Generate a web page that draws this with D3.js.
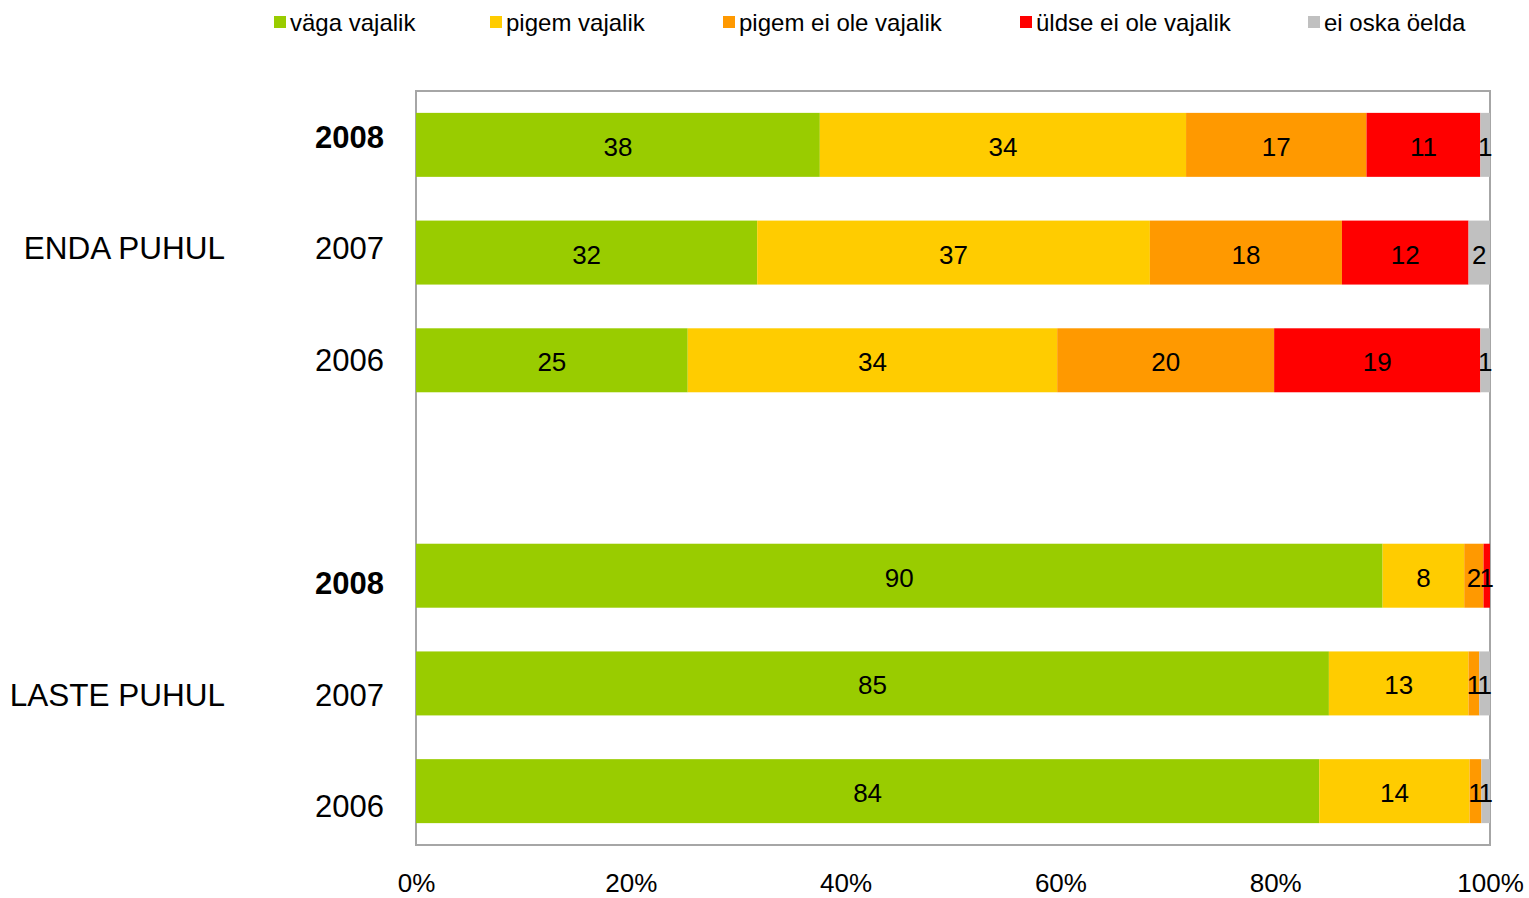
<!DOCTYPE html>
<html>
<head>
<meta charset="utf-8">
<script src="https://cdn.jsdelivr.net/npm/d3@7"></script>
<style>
    body { margin: 0; background: #ffffff; }
    svg { display: block; font-family: "Liberation Sans", Arial, sans-serif; }
</style>
</head>
<body>
<div id="chart"></div>
<script>
// data (shares in %, labels shown rounded)
const seriesNames = ["väga vajalik", "pigem vajalik", "pigem ei ole vajalik", "üldse ei ole vajalik", "ei oska öelda"];
const seriesColors = ["#99CC00", "#FFCC00", "#FF9900", "#FF0000", "#C0C0C0"];
const groupNames = ["ENDA PUHUL", "LASTE PUHUL"];
const years = ["2008", "2007", "2006"];
const vagaVajalik   = [37.6, 31.8, 25.3, 90.0, 85.0, 84.1];
const pigemVajalik  = [34.1, 36.6, 34.4,  7.6, 13.0, 14.0];
const pigemEiOle    = [16.8, 17.9, 20.2,  1.8,  1.0,  1.1];
const uldseEiOle    = [10.6, 11.8, 19.2,  0.6,  0.0,  0.0];
const eiOskaOelda   = [ 0.9,  2.0,  0.9,  0.0,  1.0,  0.8];
const xTicks = [0, 0.2, 0.4, 0.6, 0.8, 1];

const width = 1529, height = 898;
const plot = {left: 416, right: 1490, top: 91, bottom: 845};

// build rows: ENDA 2008..2006, empty slot, LASTE 2008..2006
const seriesValues = [vagaVajalik, pigemVajalik, pigemEiOle, uldseEiOle, eiOskaOelda];
const rows = [];
groupNames.forEach((g, gi) => {
    years.forEach((yr, yi) => {
        const idx = gi * years.length + yi;
        const row = {key: g + "-" + yr, group: g, year: yr};
        seriesNames.forEach((s, si) => { row[s] = seriesValues[si][idx]; });
        rows.push(row);
    });
});
const rowKeys = [...rows.slice(0, 3).map(r => r.key), "gap", ...rows.slice(3).map(r => r.key)];

const svg = d3.select("#chart").append("svg")
    .attr("width", width)
    .attr("height", height);

const xScale = d3.scaleLinear().domain([0, 1]).range([plot.left, plot.right]);
const yScale = d3.scaleBand().domain(rowKeys).range([plot.top, plot.bottom])
    .paddingInner(0.406).paddingOuter(0.203);
// category labels in the reference are spaced a bit wider than the bars
const yLabelScale = d3.scaleBand().domain(rowKeys).range([81, 862]);

const stacked = d3.stack().keys(seriesNames).offset(d3.stackOffsetExpand)(rows);

// plot area frame
svg.append("rect")
    .attr("x", plot.left)
    .attr("y", plot.top)
    .attr("width", plot.right - plot.left)
    .attr("height", plot.bottom - plot.top)
    .attr("fill", "none")
    .attr("stroke", "#A6A6A6")
    .attr("stroke-width", 2);

const layerG = svg.selectAll(".layerG")
    .data(stacked)
    .join("g")
    .attr("class", "layerG")
    .attr("fill", (d, i) => seriesColors[i]);

layerG.selectAll("rect")
    .data(d => d)
    .join("rect")
    .attr("x", d => xScale(d[0]))
    .attr("y", d => yScale(d.data.key))
    .attr("width", d => xScale(d[1]) - xScale(d[0]))
    .attr("height", yScale.bandwidth());

// value labels
stacked.forEach(layer => {
    svg.append("g")
        .selectAll("text")
        .data(layer.filter(d => Math.round(d.data[layer.key]) > 0))
        .join("text")
        .attr("x", d => (xScale(d[0]) + xScale(d[1])) / 2)
        .attr("y", d => yScale(d.data.key) + yScale.bandwidth() / 2 + 11)
        .attr("text-anchor", "middle")
        .attr("font-size", 26)
        .attr("fill", "#000")
        .text(d => Math.round(d.data[layer.key]));
});

// x axis labels
const xAxisG = svg.append("g")
    .attr("transform", "translate(0," + (plot.bottom + 26) + ")")
    .call(d3.axisBottom(xScale).tickValues(xTicks).tickFormat(d3.format(".0%")).tickSize(0));
xAxisG.select(".domain").remove();
xAxisG.selectAll("text")
    .attr("font-size", 26)
    .attr("font-family", "'Liberation Sans', Arial, sans-serif")
    .attr("fill", "#000");

// year labels
svg.append("g")
    .selectAll("text")
    .data(rows)
    .join("text")
    .attr("x", 384)
    .attr("y", d => yLabelScale(d.key) + yLabelScale.bandwidth() / 2 + 11)
    .attr("text-anchor", "end")
    .attr("font-size", 31)
    .attr("font-weight", d => d.year === "2008" ? "bold" : "normal")
    .attr("fill", "#000")
    .text(d => d.year);

// group labels
svg.append("g")
    .selectAll("text")
    .data(groupNames)
    .join("text")
    .attr("x", 225)
    .attr("y", g => yLabelScale(g + "-2007") + yLabelScale.bandwidth() / 2 + 11)
    .attr("text-anchor", "end")
    .attr("font-size", 31.5)
    .attr("fill", "#000")
    .text(g => g);

// legend
const legendX = [274, 490, 723, 1020, 1308];
const legendG = svg.append("g")
    .selectAll("g")
    .data(seriesNames)
    .join("g")
    .attr("transform", (d, i) => "translate(" + legendX[i] + ",16)");
legendG.append("rect")
    .attr("width", 12)
    .attr("height", 12)
    .attr("fill", (d, i) => seriesColors[i]);
legendG.append("text")
    .attr("x", 16)
    .attr("y", 15)
    .attr("font-size", 24)
    .attr("fill", "#000")
    .text(d => d);
</script>
</body>
</html>
